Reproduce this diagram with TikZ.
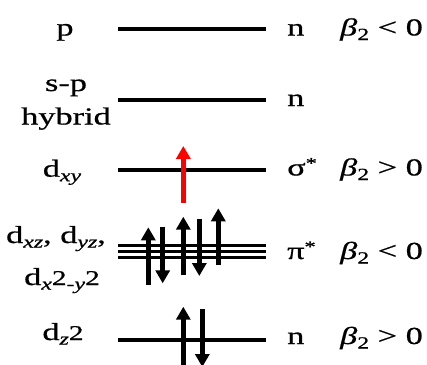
\documentclass[tikz,border=0pt]{standalone}
\usepackage{fontspec}
\setmainfont{Liberation Serif}[FakeStretch=1.4,FakeBold=0.7]
\usetikzlibrary{arrows.meta}

\newcommand{\lowr}[1]{\raisebox{-4.5pt}{\fontsize{17}{17}\selectfont #1}}
\newcommand{\twoo}{{\fontsize{21}{21}\selectfont 2}}
\newcommand{\strr}{\raisebox{7pt}{\fontsize{16}{16}\selectfont *}}

\begin{document}
\begin{tikzpicture}[x=1pt,y=-1pt,every node/.style={font=\fontsize{24.5}{30}\selectfont,inner sep=0pt}]
  \tikzset{
    lvl/.style={line width=3.3pt},
    thin lvl/.style={line width=3pt},
    spin/.style={line width=4.5pt,-{Triangle[length=13pt,width=14pt]}},
    orb/.style={anchor=base},
    tag/.style={anchor=base west}
  }
  \useasboundingbox (0,0) rectangle (427,364);
  \clip (0,0) rectangle (427,364);
  % levels
  \foreach \y in {29,100,170,340}
    \draw[lvl] (118,\y) -- (266,\y);
  \foreach \y in {245,251.2,257.4}
    \draw[thin lvl] (118,\y) -- (266,\y);
  % electrons
  \draw[spin,red] (183.3,202.7) -- (183.3,146);
  \foreach \x/\a/\b in {148.3/285/227.3,162.7/226.7/283.3,183.3/275/216.7,199.3/219.3/276,218.3/265/208.3,183.3/380/306.7,202.3/309/367}
    \draw[spin] (\x,\a) -- (\x,\b);
  % orbital names
  \node[orb] (p) at (65,35.5) {p};
  \node[orb] (sp) at (66,91) {s-p};
  \node[orb] (hyb) at (66,124.5) {hybrid};
  \node[orb] (dxy) at (62,176.7) {d\lowr{\textit{xy}}};
  \node[orb] (dxz) at (56,243) {d\lowr{\textit{xz}}, d\lowr{\textit{yz}},};
  \node[orb] (dx2) at (62,285) {d\lowr{\textit{x}}\twoo\lowr{-\textit{y}}\twoo};
  \node[orb] (dz2) at (63,340) {d\lowr{\textit{z}}\twoo};
  % character and sign
  \foreach \name/\y/\txt in {np/35.5/n,nh/106/n,sig/175.5/σ\strr,pi/259/π\strr,nz/344/n}
    \node[tag] (\name) at (287,\y) {\txt};
  \foreach \name/\y/\sgn in {bp/35.5/<,bs/175.5/>,bpi/259/<,bz/344/>}
    \node[tag] (\name) at (340,\y) {\textit{β}\lowr{2} \sgn\ 0};
\end{tikzpicture}
\end{document}
